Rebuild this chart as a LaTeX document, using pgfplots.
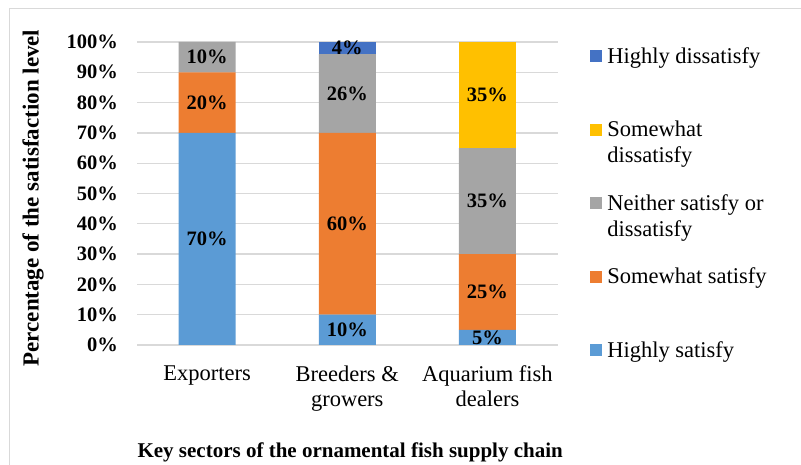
\documentclass[border=0pt]{standalone}
\usepackage{fontspec}
\setmainfont{Liberation Serif}
\usepackage{pgfplots}
\pgfplotsset{compat=1.18}
\definecolor{cHS}{HTML}{5B9BD5}
\definecolor{cSS}{HTML}{ED7D31}
\definecolor{cN}{HTML}{A5A5A5}
\definecolor{cSD}{HTML}{FFC000}
\definecolor{cHD}{HTML}{4472C4}
\definecolor{gridc}{HTML}{D9D9D9}
\newcommand{\twol}[2]{\vtop{\hbox{#1}\hbox{#2}}}
\begin{document}
\begin{tikzpicture}
\path[use as bounding box] (0,0) rectangle (801bp,465bp);
\draw[color=gridc, line width=1.5bp] (9.5bp,0) -- (9.5bp,456.5bp) -- (801bp,456.5bp);
\begin{axis}[
  at={(137bp,120bp)}, anchor=south west,
  scale only axis, width=420.5bp, height=303bp,
  ybar stacked, bar width=57bp,
  xmin=-0.5, xmax=2.5, ymin=0, ymax=100,
  xtick={0,1,2},
  xticklabels={Exporters,{Breeders \&\\growers},{Aquarium fish\\dealers}},
  xticklabel style={align=center, font=\fontsize{22.5bp}{25bp}\selectfont, anchor=north, yshift=-17bp},
  ytick={0,10,...,100},
  yticklabels={0\%,10\%,20\%,30\%,40\%,50\%,60\%,70\%,80\%,90\%,100\%},
  yticklabel style={font=\fontsize{20.5bp}{23bp}\selectfont\bfseries, xshift=-15.5bp},
  axis line style={draw=none}, major tick style={draw=none},
  ymajorgrids, major grid style={draw=gridc, line width=1.3bp},
  xlabel={Key sectors of the ornamental fish supply chain},
  xlabel style={font=\fontsize{21bp}{24bp}\selectfont\bfseries, at={(axis description cs:0.507,-0.370)}, anchor=base},
  ylabel={Percentage of the satisfaction level},
  ylabel style={font=\fontsize{23bp}{26bp}\selectfont\bfseries, at={(axis description cs:-0.247,0.485)}, anchor=center},
  legend style={draw=none, fill=none, inner sep=0pt, outer sep=0pt,
    at={(rel axis cs:1.0773,0.983)}, anchor=north west,
    font=\fontsize{22.5bp}{26bp}\selectfont,
    nodes={inner sep=0pt, outer sep=0pt, text height=16bp, text depth=57.5bp},
    cells={anchor=base west},
    row sep=0pt,
    /tikz/every odd column/.style={column sep=5.3bp}},
  legend image code/.code={\fill[#1] (0bp,1bp) rectangle (12bp,13bp);},
  reverse legend,
]
\addplot[draw=none, fill=cHS] coordinates {(0,70) (1,10) (2,5)};
\addlegendentry{Highly satisfy}
\addplot[draw=none, fill=cSS] coordinates {(0,20) (1,60) (2,25)};
\addlegendentry{Somewhat satisfy}
\addplot[draw=none, fill=cN] coordinates {(0,10) (1,26) (2,35)};
\addlegendentry{\twol{Neither satisfy or}{dissatisfy}}
\addplot[draw=none, fill=cSD] coordinates {(0,0) (1,0) (2,35)};
\addlegendentry{\twol{Somewhat}{dissatisfy}}
\addplot[draw=none, fill=cHD] coordinates {(0,0) (1,4) (2,0)};
\addlegendentry{Highly dissatisfy}
\end{axis}
\begin{axis}[
  at={(137bp,120bp)}, anchor=south west,
  scale only axis, width=420.5bp, height=303bp,
  xmin=-0.5, xmax=2.5, ymin=0, ymax=100,
  hide axis, clip=false,
]
\addplot[only marks, mark=none, point meta=explicit,
  nodes near coords={\pgfmathprintnumber[assume math mode=true]{\pgfplotspointmeta}\%},
  every node near coord/.style={anchor=center, inner sep=0pt, font=\fontsize{20.5bp}{23bp}\selectfont\bfseries, text=black}]
  table[meta=v, row sep=\\] {
  x y v \\
  0 35 70 \\
  0 80 20 \\
  0 95 10 \\
  1 5 10 \\
  1 40 60 \\
  1 83 26 \\
  1 98 4 \\
  2 2.5 5 \\
  2 17.5 25 \\
  2 47.5 35 \\
  2 82.5 35 \\
};
\end{axis}
\end{tikzpicture}
\end{document}
